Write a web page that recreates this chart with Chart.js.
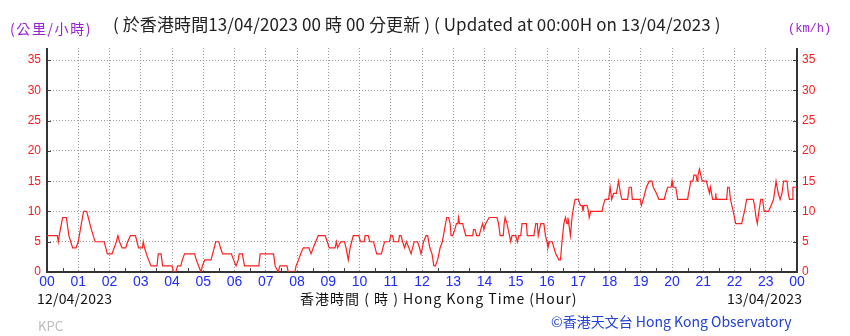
<!DOCTYPE html>
<html>
<head>
<meta charset="utf-8">
<script src="https://cdn.jsdelivr.net/npm/chart.js@4"></script>
<style>
  body { margin: 0; background: #fff; }
  #wrap { position: relative; width: 850px; height: 336px; overflow: hidden; }
  #wrap canvas { position: absolute; left: 0; top: 0; }
  .txt { position: absolute; white-space: nowrap; font-family: "Noto Sans CJK TC", "Noto Sans", sans-serif; }
</style>
</head>
<body>
<div id="wrap">
  <canvas id="graph" width="850" height="336"></canvas>
  <div class="txt" style="left:10px;top:18px;font-size:14px;letter-spacing:1.6px;color:#9a20d8;">(公里/小時)</div>
  <div class="txt" style="left:113px;top:11px;font-size:17px;letter-spacing:0.1px;color:#222;">( 於香港時間13/04/2023 00 時 00 分更新 ) ( Updated at 00:00H on 13/04/2023 )</div>
  <div class="txt" style="left:788px;top:22px;font-size:12px;color:#9a20d8;font-family:'Liberation Mono',monospace;">(km/h)</div>
  <div class="txt" style="left:37px;top:288px;font-size:14px;letter-spacing:0.2px;color:#111;">12/04/2023</div>
  <div class="txt" style="left:300px;top:288px;font-size:14px;letter-spacing:1px;color:#111;">香港時間 ( 時 ) Hong Kong Time (Hour)</div>
  <div class="txt" style="left:727px;top:288px;font-size:14px;letter-spacing:0.2px;color:#111;">13/04/2023</div>
  <div class="txt" style="left:38px;top:316px;font-size:13px;color:#bbb;">KPC</div>
  <div class="txt" style="left:551px;top:311px;font-size:14px;color:#2040d8;">©香港天文台 Hong Kong Observatory</div>
</div>
<script>
// wind speed (km/h), time in hours since 00:00 12/04
var hours = [
  0.00,0.33,0.36,0.39,0.50,0.62,0.70,0.76,0.82,0.93,
  1.00,1.10,1.17,1.27,1.32,1.37,1.42,1.48,1.54,1.83,1.88,1.93,
  2.08,2.15,2.22,2.27,2.32,2.40,2.52,2.58,2.67,2.83,2.88,2.93,
  3.05,3.08,3.12,3.18,3.25,3.33,3.52,3.56,3.65,3.70,
  4.00,4.05,4.12,4.18,4.28,4.33,4.40,4.72,4.78,4.85,4.93,4.97,
  5.05,5.25,5.30,5.40,5.50,5.55,5.62,5.90,5.97,
  6.05,6.12,6.15,6.25,6.32,6.78,6.82,
  7.25,7.30,7.40,7.45,7.68,7.72,7.93,7.97,
  8.05,8.12,8.20,8.38,8.45,8.52,8.60,8.68,8.90,8.97,
  9.03,9.22,9.26,9.30,9.40,9.52,9.57,9.64,9.70,9.75,9.80,9.98,
  10.03,10.15,10.18,10.28,10.33,10.45,10.50,10.55,10.70,10.75,10.80,10.96,
  11.00,11.06,11.10,11.25,11.28,11.33,11.38,11.44,11.50,11.58,11.65,11.70,11.75,11.86,11.92,11.97,
  12.05,12.13,12.18,12.25,12.32,12.38,12.43,12.50,12.58,12.65,12.72,12.79,12.85,12.90,12.93,12.98,
  13.05,13.10,13.15,13.17,13.20,13.30,13.35,13.40,13.62,13.65,13.70,13.75,13.83,13.88,13.94,13.98,
  14.04,14.15,14.40,14.45,14.50,14.60,14.63,14.66,14.72,14.80,14.84,14.88,
  15.00,15.05,15.10,15.16,15.20,15.34,15.37,15.58,15.64,15.69,15.72,15.80,15.90,15.95,
  16.00,16.03,16.08,16.17,16.22,16.28,16.38,16.43,16.48,16.54,16.59,16.64,16.67,16.75,16.80,16.86,16.90,
  17.00,17.07,17.12,17.15,17.18,17.28,17.33,17.35,17.40,17.76,17.80,17.86,17.97,
  18.02,18.07,18.13,18.22,18.29,18.35,18.40,18.58,18.63,18.70,18.73,18.98,
  19.02,19.08,19.18,19.27,19.36,19.40,19.50,19.58,19.75,19.80,19.86,19.97,
  20.00,20.03,20.12,20.18,20.50,20.53,20.57,20.60,20.67,20.70,20.77,20.80,20.83,20.88,20.92,20.97,
  21.10,21.15,21.20,21.23,21.30,21.38,21.40,21.42,21.75,21.78,21.83,21.87,21.96,
  22.00,22.04,22.23,22.27,22.32,22.39,22.60,22.64,22.69,22.73,22.78,22.84,22.90,22.95,
  23.09,23.17,23.25,23.33,23.40,23.46,23.52,23.57,23.68,23.72,23.76,23.84,23.87,24.00
];
var speeds = [
  6,6,5,6,9,9,6,5,4,4,
  5,8,10,10,9,8,7,6,5,5,4,3,
  3,4,5,6,5,4,4,5,6,6,5,4,
  4,5,4,3,2,1,1,3,3,1,
  1,0,0,1,1,2,3,3,2,1,0,1,
  2,2,3,5,5,4,3,3,2,
  1,2,3,3,1,1,3,
  3,1,0,1,1,0,0,1,
  2,3,4,4,3,4,5,6,6,5,
  4,4,5,4,5,5,4,2,4,5,6,6,
  5,5,6,6,5,5,4,3,3,4,5,5,
  6,6,5,5,6,6,5,4,5,4,3,4,5,5,4,3,
  5,6,6,4,3,1,1,2,4,5,7,9,9,8,6,6,
  7,8,8,9,8,8,7,6,6,7,7,6,6,7,8,7,
  8,9,9,8,6,6,8,9,8,6,5,6,
  6,5,6,6,8,8,6,6,8,8,6,8,8,6,
  5,4,5,5,4,3,2,2,5,8,9,8,9,6,9,11,12,
  12,11,11,10,11,11,10,9,10,10,11,12,12,
  14,12,13,13,15,13,12,12,14,14,12,12,
  11,12,14,15,15,14,13,12,12,13,14,14,
  15,14,14,12,12,13,14,15,15,16,16,15,16,17,16,15,
  15,14,13,14,12,12,13,12,12,14,14,12,10,
  9,8,8,9,10,12,12,11,9,8,10,12,12,10,
  10,11,12,15,13,12,13,15,15,13,12,12,14,14
];
var hourLabels = ['00','01','02','03','04','05','06','07','08','09','10','11',
                  '12','13','14','15','16','17','18','19','20','21','22','23','00'];
var speedTicks = [0, 5, 10, 15, 20, 25, 30, 35];

var points = [];
for (var i = 0; i < hours.length; i++) points.push({x: hours[i], y: speeds[i]});

// dark frame + small tick marks, drawn under the trace
var framePlugin = {
  id: 'frame',
  beforeDatasetsDraw: function(chart) {
    var ctx = chart.ctx, a = chart.chartArea, xs = chart.scales.x, ys = chart.scales.y;
    ctx.save();
    ctx.lineWidth = 1;
    ctx.strokeStyle = '#444';
    ctx.beginPath();
    for (var h = 0.5; h < 24; h += 1) {
      var px = Math.round(xs.getPixelForValue(h)) + 0.5;
      ctx.moveTo(px, a.bottom); ctx.lineTo(px, a.bottom - 4);
    }
    speedTicks.forEach(function(v) {
      var py = Math.round(ys.getPixelForValue(v)) + 0.5;
      ctx.moveTo(a.left, py); ctx.lineTo(a.left + 4, py);
      ctx.moveTo(a.right, py); ctx.lineTo(a.right - 4, py);
    });
    ctx.stroke();
    ctx.lineWidth = 2;
    ctx.strokeStyle = '#333';
    ctx.beginPath();
    ctx.moveTo(a.left, a.top); ctx.lineTo(a.left, a.bottom);
    ctx.lineTo(a.right, a.bottom); ctx.lineTo(a.right, a.top);
    ctx.stroke();
    ctx.restore();
  }
};

function fixTicks(scale) {
  scale.ticks = speedTicks.map(function(v) { return {value: v}; });
}

new Chart(document.getElementById('graph'), {
  type: 'line',
  data: {
    datasets: [{
      data: points,
      borderColor: '#ff2020',
      borderWidth: 1.2,
      pointRadius: 0,
      tension: 0,
      fill: false
    }]
  },
  options: {
    responsive: false,
    animation: false,
    devicePixelRatio: 1,
    layout: { padding: { left: 0, right: 0, top: 48, bottom: 40 } },
    plugins: { legend: { display: false }, tooltip: { enabled: false } },
    scales: {
      x: {
        type: 'linear', min: 0, max: 24,
        afterFit: function(s) { s.height = 24; },
        afterBuildTicks: function(s) {
          s.ticks = hourLabels.map(function(l, i) { return {value: i}; });
        },
        ticks: {
          autoSkip: false, maxRotation: 0, padding: 2,
          color: '#1f2cff',
          font: { family: 'Liberation Sans', size: 14 },
          callback: function(v, i) { return hourLabels[i]; }
        },
        grid: { color: '#9a9a9a', lineWidth: 1, drawTicks: false },
        border: { display: false, dash: [1, 2] }
      },
      y: {
        position: 'left', min: 0, max: 37,
        afterFit: function(s) { s.width = 47; },
        afterBuildTicks: fixTicks,
        ticks: { color: '#ff1a1a', padding: 6, font: { family: 'Liberation Sans', size: 12 } },
        grid: { color: '#9a9a9a', lineWidth: 1, drawTicks: false },
        border: { display: false, dash: [1, 2] }
      },
      y2: {
        position: 'right', min: 0, max: 37,
        afterFit: function(s) { s.width = 53; },
        afterBuildTicks: fixTicks,
        ticks: { color: '#ff1a1a', padding: 5, font: { family: 'Liberation Sans', size: 12 } },
        grid: { drawOnChartArea: false, drawTicks: false },
        border: { display: false }
      }
    }
  },
  plugins: [framePlugin]
});
</script>
</body>
</html>
